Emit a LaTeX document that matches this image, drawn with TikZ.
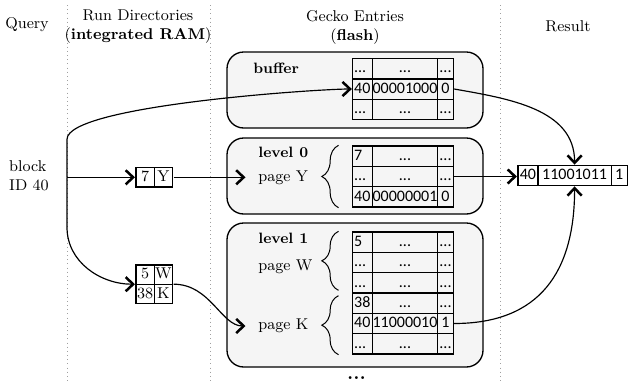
\documentclass[tikz,border=0pt]{standalone}
\usepackage{fontspec}
\newfontfamily\cellfont{Carlito}
\usepackage{tikz}
\usetikzlibrary{arrows.meta, positioning, matrix, decorations.pathreplacing}
\definecolor{BoxGray}{HTML}{F5F5F5}
\definecolor{SepGray}{HTML}{A0A0A0}
\tikzset{
  % Text styles
  headtext/.style={font=\fontsize{9.4}{11.4}\selectfont, align=center, inner sep=0pt},
  tagtext/.style={font=\fontsize{9}{11}\selectfont\bfseries, anchor=west, inner sep=0pt},
  pagetext/.style={font=\fontsize{9.4}{11}\selectfont, anchor=west, inner sep=0pt},
  % Box styles
  levelbox/.style={rectangle, rounded corners=10pt, draw=black, line width=0.8pt, fill=BoxGray, minimum width=153.6pt},
  % Table styles
  cellbase/.style={matrix of nodes, inner sep=0pt, column sep=-0.8pt, row sep=-0.8pt,
    nodes={draw, line width=0.8pt, minimum height=12.2pt, inner sep=0pt, text height=6.8pt, text depth=1.8pt}},
  entrytable/.style={cellbase, nodes={font=\fontsize{9.6}{11}\selectfont\cellfont},
    column 1/.style={nodes={text width=10pt, align=left, inner xsep=1pt}},
    column 2/.style={nodes={minimum width=39pt}},
    column 3/.style={nodes={minimum width=9.6pt}}},
  resulttable/.style={cellbase, nodes={font=\fontsize{9.6}{11}\selectfont\cellfont},
    column 1/.style={nodes={minimum width=12pt}},
    column 2/.style={nodes={minimum width=44pt}},
    column 3/.style={nodes={minimum width=9.6pt}}},
  dirtable/.style={cellbase, nodes={font=\fontsize{9.4}{11}\selectfont, minimum width=11pt, minimum height=11.6pt}},
  % Line styles
  flowarrow/.style={-{Straight Barb[length=4.5pt, width=8.5pt, line width=1.5pt]}, line width=0.7pt},
  sepline/.style={draw=SepGray, dotted, line width=0.5pt},
  bracemark/.style={decorate, decoration={brace, amplitude=10pt}, line width=0.6pt}
}

\begin{document}
\begin{tikzpicture}[x=0.6pt, y=-0.6pt]
  \useasboundingbox (0,0) rectangle (635,381);

  % Column separators
  \draw[sepline] (67,5) -- (67,385);
  \draw[sepline] (210,5) -- (210,385);
  \draw[sepline] (500,5) -- (500,385);

  % Column headers
  \node[headtext] (qhead) at (27,25) {Query};
  \node[headtext] (dirhead) at (138,27) {Run Directories\\(\textbf{integrated RAM})};
  \node[headtext] (gechead) at (355,27) {Gecko Entries\\(\textbf{flash})};
  \node[headtext] (reshead) at (568,26) {Result};

  % Query
  \node[headtext, align=left] (query) at (29,176) {block\\ID 40};
  \coordinate (qsplit) at (67,177.3);

  % Gecko levels
  \node[levelbox, minimum height=45.6pt] (bufbox) at (355,90) {};
  \node[levelbox, minimum height=45.6pt] (lv0box) at (355,176) {};
  \node[levelbox, minimum height=86.4pt] (lv1box) at (355,295) {};

  \node[tagtext] (buflbl) at (253,68) {buffer};
  \node[tagtext] (lv0lbl) at (258,152) {level 0};
  \node[pagetext] (pageY) at (258,178) {page Y};
  \node[tagtext] (lv1lbl) at (258,238) {level 1};
  \node[pagetext] (pageW) at (258,267) {page W};
  \node[pagetext] (pageK) at (258,326) {page K};

  \matrix[entrytable] (buf) at (403,89) {
    ... & ... & ... \\
    40 & 00001000 & 0 \\
    ... & ... & ... \\
  };
  \matrix[entrytable] (lv0) at (403,176.5) {
    7 & ... & ... \\
    ... & ... & ... \\
    40 & 00000001 & 0 \\
  };
  \matrix[entrytable] (lv1) at (403,293) {
    5 & ... & ... \\
    ... & ... & ... \\
    ... & ... & ... \\
    38 & ... & ... \\
    40 & 11000010 & 1 \\
    ... & ... & ... \\
  };

  % Braces for pages
  \draw[bracemark] ([xshift=-8pt]lv0-3-1.south west) -- ([xshift=-8pt]lv0-1-1.north west);
  \draw[bracemark] ([xshift=-8pt, yshift=2pt]lv1-3-1.south west) -- ([xshift=-8pt]lv1-1-1.north west);
  \draw[bracemark] ([xshift=-8pt]lv1-6-1.south west) -- ([xshift=-8pt, yshift=-2pt]lv1-4-1.north west);

  % Run directories
  \matrix[dirtable] (dir1) at (154.3,177.3) {
    7 & Y \\
  };
  \matrix[dirtable] (dir2) at (154.3,284.2) {
    5 & W \\
    38 & K \\
  };

  % Result
  \matrix[resulttable] (res) at (572.6,175.5) {
    40 & 11001011 & 1 \\
  };

  \node[font=\large\bfseries, anchor=base, inner sep=0pt] (more) at (356.5,379.5) {...};

  % Arrows
  \draw[flowarrow] (qsplit) -- (dir1.west);
  \draw[flowarrow] (qsplit) -- ++(0,-38) to[out=90, in=180, looseness=0.3] (buf-2-1.west);
  \draw[flowarrow] (qsplit) -- ++(0,50) to[out=-90, in=180] (dir2.west);
  \draw[flowarrow, shorten >=7.5pt] (dir1.east) -- (dir1.east -| pageY.west);
  \draw[flowarrow, shorten >=7.5pt] (dir2.east) to[out=0, in=180] (pageK.west);
  \draw[flowarrow] (buf-2-3.east) to[out=-10, in=90] (res-1-2.north);
  \draw[flowarrow] (lv0-2-3.east) -- (lv0-2-3.east -| res.west);
  \draw[flowarrow] (lv1-5-3.east) to[out=0, in=-90, looseness=1.2] (res-1-2.south);
\end{tikzpicture}
\end{document}
